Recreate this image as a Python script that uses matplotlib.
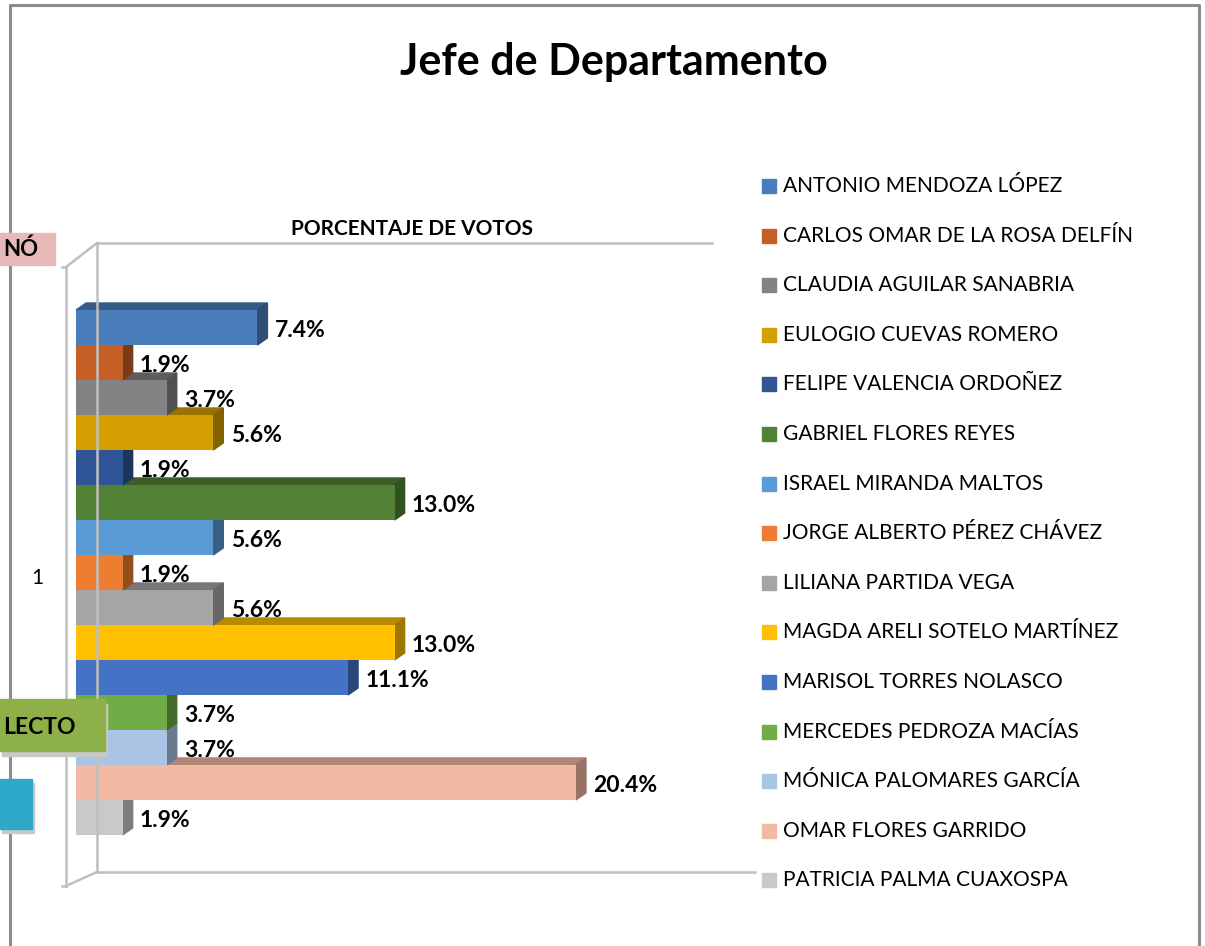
import numpy as np
import matplotlib.pyplot as plt
from matplotlib.patches import Rectangle, Polygon
from matplotlib.colors import to_rgb

plt.rcParams['font.family'] = ['Lato', 'DejaVu Sans']

candidatos = ['ANTONIO MENDOZA LÓPEZ', 'CARLOS OMAR DE LA ROSA DELFÍN',
              'CLAUDIA AGUILAR SANABRIA', 'EULOGIO CUEVAS ROMERO',
              'FELIPE VALENCIA ORDOÑEZ', 'GABRIEL FLORES REYES',
              'ISRAEL MIRANDA MALTOS', 'JORGE ALBERTO PÉREZ CHÁVEZ',
              'LILIANA PARTIDA VEGA', 'MAGDA ARELI SOTELO MARTÍNEZ',
              'MARISOL TORRES NOLASCO', 'MERCEDES PEDROZA MACÍAS',
              'MÓNICA PALOMARES GARCÍA', 'OMAR FLORES GARRIDO',
              'PATRICIA PALMA CUAXOSPA']
porcentajes = [7.4, 1.9, 3.7, 5.6, 1.9, 13.0, 5.6, 1.9, 5.6, 13.0, 11.1, 3.7, 3.7, 20.4, 1.9]
colores = ['#4A7EBB', '#C55F26', '#838383', '#D49F00', '#2F5597', '#538135',
           '#5B9BD5', '#ED7D31', '#A5A5A5', '#FFC000', '#4472C4', '#70AD47',
           '#A9C4E4', '#F4B9A4', '#C9C9C9']
categoria = '1'

W, H = 1205, 946
fig = plt.figure(figsize=(W / 100, H / 100), dpi=100)


def fx(x):
    return x / W


def fy(y):
    return 1 - y / H


def linea(xs, ys, color='#BFBFBF', lw=1.8, z=1):
    fig.add_artist(plt.Line2D([fx(x) for x in xs], [fy(y) for y in ys],
                              transform=fig.transFigure, color=color, lw=lw, zorder=z))


# marco del grafico
linea([10, 10, 1199, 1199], [946, 5, 5, 946], color='#8C8C8C', lw=2.2)

# paredes 3D
linea([97, 712], [243, 243])
linea([97, 97], [243, 872])
linea([97, 755], [872, 872])
linea([66, 66], [267, 886])
linea([66, 97], [267, 243])
linea([66, 97], [886, 872])
linea([62, 66], [267, 267])
linea([62, 66], [886, 886])

ax = fig.add_axes([fx(66), fy(885), fx(755) - fx(66), fy(240) - fy(885)])
ax.set_xlim(-0.41, 27.71)
ax.set_ylim(15.93, -2.5)
ax.axis('off')
ax.patch.set_alpha(0)

n = len(porcentajes)
pos = np.arange(n)
dx, dy = 0.41, 0.2

barras = ax.barh(pos, porcentajes, height=1.0, color=colores)
for i, (b, v, c) in enumerate(zip(barras, porcentajes, colores)):
    z = 2 + (n - i) * 2
    b.set_zorder(z + 1)
    rgb = np.array(to_rgb(c))
    top = i - 0.5
    ax.add_patch(Polygon([(0, top), (dx, top - dy), (v + dx, top - dy), (v, top)],
                         closed=True, color=rgb * 0.72, zorder=z))
    ax.add_patch(Polygon([(v, top), (v + dx, top - dy), (v + dx, top + 1 - dy), (v, top + 1)],
                         closed=True, color=rgb * 0.62, zorder=z))
    ax.text(v + dx + 0.3, i + 0.08, f'{v:.1f}%', ha='left', va='center',
            fontsize=16.5, fontweight='bold', zorder=40)

ax.text(-1.35, 7.15, categoria, ha='right', va='center', fontsize=15)

# titulos
fig.text(fx(614), fy(62), 'Jefe de Departamento', ha='center', va='center',
         fontsize=31, fontweight='bold')
fig.text(fx(412), fy(229), 'PORCENTAJE DE VOTOS', ha='center', va='center',
         fontsize=15, fontweight='bold')

# leyenda
for k, (nombre, c) in enumerate(zip(candidatos, colores)):
    y = 186 + 49.6 * k
    fig.add_artist(Rectangle((fx(762), fy(y + 7)), 14 / W, 14 / H,
                             transform=fig.transFigure, color=c))
    fig.text(fx(783), fy(y), nombre, ha='left', va='center', fontsize=15)

# formas recortadas a la izquierda
fig.add_artist(Rectangle((fx(0), fy(265)), 55 / W, 32 / H, transform=fig.transFigure,
                         color='#E6B9B8', zorder=5))
fig.text(fx(3), fy(249), 'NÓ', ha='left', va='center', fontsize=16,
         fontweight='bold', zorder=6)
fig.add_artist(Rectangle((fx(2), fy(756)), 105 / W, 52 / H, transform=fig.transFigure,
                         color='#C8C8C8', zorder=5))
fig.add_artist(Rectangle((fx(0), fy(751)), 105 / W, 52 / H, transform=fig.transFigure,
                         color='#8DB048', zorder=5))
fig.text(fx(3), fy(727), 'LECTO', ha='left', va='center', fontsize=16.5,
         fontweight='bold', zorder=6)
fig.add_artist(Rectangle((fx(2), fy(833)), 32 / W, 50 / H, transform=fig.transFigure,
                         color='#C8C8C8', zorder=5))
fig.add_artist(Rectangle((fx(0), fy(829)), 32 / W, 50 / H, transform=fig.transFigure,
                         color='#2FA9C9', zorder=5))

fig.savefig('out.png', dpi=100)
